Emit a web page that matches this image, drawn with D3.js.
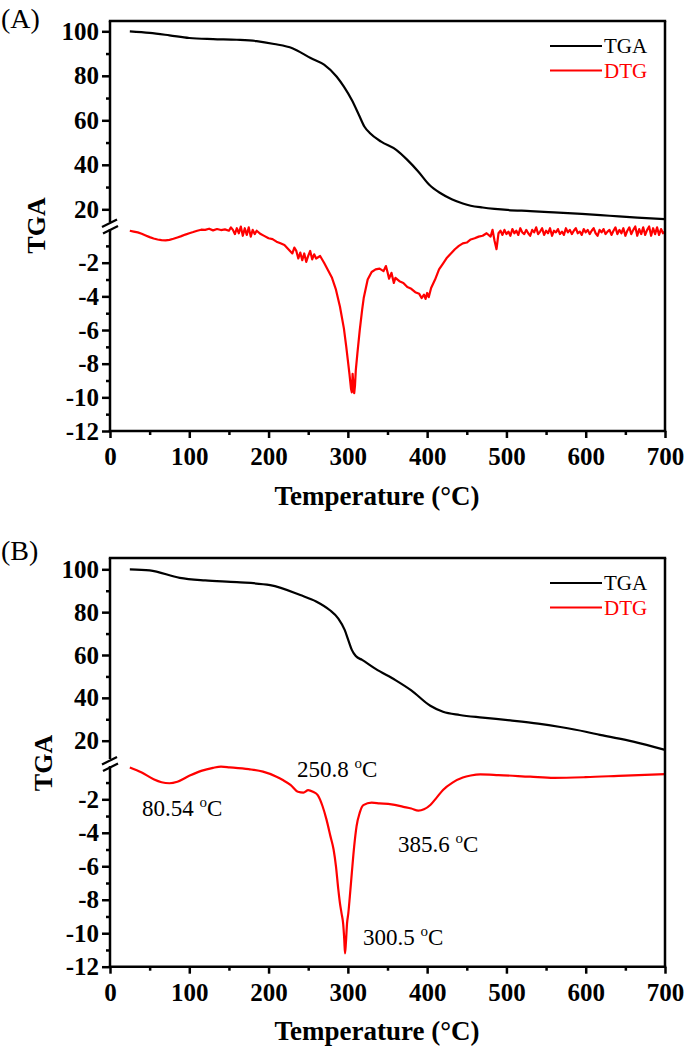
<!DOCTYPE html>
<html><head><meta charset="utf-8">
<script src="https://cdn.jsdelivr.net/npm/d3@7"></script>
<style>html,body{margin:0;padding:0;background:#fff;}svg{display:block;}</style>
</head><body>
<svg id="chart" width="685" height="1052"></svg>
<script>
// ---------- DATA ----------
const xTicks = [0,100,200,300,400,500,600,700];
const xMinor = [50,150,250,350,450,550,650];
const tgaTicks = [20,40,60,80,100];
const tgaMinor = [30,50,70,90];
const dtgTicks = [-12,-10,-8,-6,-4,-2];
const dtgMinor = [-11,-9,-7,-5,-3,-1];
const seriesNames = ["TGA","DTG"];

// Panel A  [temperature, value]
const tgaA = [[25,100],[50,99.3],[75,98.2],[100,97.0],[130,96.5],[160,96.2],[185,95.6],[207,94.3],[230,92.4],[253,88.0],[270,85.0],[286,79.6],[295,75.1],[305,69.1],[314,62.4],[321,57.1],[328,54.2],[342,50.4],[361,46.7],[375,42.2],[389,36.9],[403,30.9],[417,27.2],[431,24.5],[445,22.6],[455,21.6],[470,20.8],[485,20.2],[501,19.7],[530,19.2],[560,18.6],[595,17.9],[630,17.1],[665,16.3],[700,15.6]];
const dtgA = [[25,-0.10],[30,-0.15],[35,-0.20],[40,-0.28],[45,-0.38],[50,-0.48],[55,-0.56],[60,-0.62],[65,-0.66],[70,-0.67],[75,-0.64],[80,-0.58],[85,-0.50],[90,-0.42],[95,-0.33],[100,-0.25],[105,-0.18],[110,-0.10],[115,-0.04],[120,-0.05],[125,0.02],[130,-0.08],[135,0.00],[140,-0.06],[145,-0.02],[150,-0.10],[152.5,0.10],[155,-0.05],[157.5,-0.30],[160,0.05],[162.5,-0.25],[165,0.15],[167.5,-0.40],[170,0.05],[172.5,-0.35],[175,0.10],[177.5,-0.45],[180,-0.05],[182.5,-0.30],[185,-0.10],[190,-0.30],[195,-0.42],[200,-0.55],[205,-0.60],[210,-0.75],[215,-0.85],[220,-0.95],[225,-1.20],[230,-1.45],[232.5,-1.10],[235,-1.30],[237.5,-1.75],[240,-1.40],[242.5,-1.85],[245,-1.45],[247.5,-1.95],[250,-1.60],[252.5,-1.30],[255,-1.80],[257.5,-1.50],[260,-1.75],[265,-1.60],[270,-2.00],[275,-2.45],[280,-2.90],[285,-3.60],[290,-4.60],[295,-5.90],[298,-7.00],[300,-7.80],[302,-8.60],[304,-9.50],[305,-9.70],[306,-8.60],[307,-9.20],[308,-9.75],[309,-9.30],[310,-8.40],[312,-7.40],[315,-6.00],[318,-4.80],[320,-4.10],[325,-3.00],[330,-2.55],[335,-2.40],[340,-2.35],[345,-2.50],[348,-2.20],[350,-2.55],[352,-2.95],[355,-2.60],[358,-3.20],[360,-2.90],[365,-3.10],[370,-3.20],[375,-3.45],[380,-3.55],[385,-3.75],[390,-3.85],[393,-4.10],[396,-3.90],[398,-4.15],[400,-3.80],[402,-4.05],[405,-3.50],[410,-3.00],[415,-2.40],[420,-2.05],[425,-1.70],[430,-1.45],[435,-1.20],[440,-1.00],[445,-0.85],[450,-0.80],[455,-0.62],[460,-0.55],[465,-0.45],[470,-0.40],[475,-0.25],[480,-0.45],[482.5,-0.05],[485,-0.70],[487.5,-1.20],[490,-0.25],[492.5,-0.10],[495,-0.35],[497.5,-0.05],[500,-0.30],[502.5,-0.15],[505,-0.40],[507.5,0.00],[510,-0.25],[512.5,-0.10],[515,-0.35],[517.5,0.05],[520,-0.20],[522.5,-0.30],[525,-0.05],[527.5,-0.25],[530,-0.40],[532.5,-0.05],[535,-0.20],[537.5,0.10],[540,-0.30],[542.5,-0.15],[545,0.05],[547.5,-0.35],[550,-0.10],[552.5,-0.25],[555,0.05],[557.5,-0.40],[560,-0.10],[562.5,-0.20],[565,0.00],[567.5,-0.30],[570,-0.15],[572.5,-0.35],[575,0.05],[577.5,-0.20],[580,-0.05],[582.5,-0.30],[585,-0.10],[587.5,0.05],[590,-0.25],[592.5,-0.15],[595,-0.35],[597.5,0.00],[600,-0.20],[602.5,-0.05],[605,-0.30],[607.5,-0.10],[610,0.05],[612.5,-0.25],[615,-0.40],[617.5,-0.05],[620,-0.20],[622.5,0.00],[625,-0.30],[627.5,-0.15],[630,-0.05],[632.5,-0.35],[635,-0.10],[637.5,0.10],[640,-0.30],[642.5,-0.05],[645,-0.25],[647.5,0.05],[650,-0.40],[652.5,-0.10],[655,0.10],[657.5,-0.30],[660,-0.05],[662.5,0.15],[665,-0.40],[667.5,0.00],[670,-0.30],[672.5,0.10],[675,-0.35],[677.5,-0.05],[680,0.15],[682.5,-0.40],[685,0.05],[687.5,-0.30],[690,0.10],[692.5,-0.35],[695,0.00],[697.5,-0.25],[700,-0.15]];

// Panel B  [temperature, value]
const tgaB = [[25,100],[50,99.5],[88,96.0],[120,94.8],[160,94.0],[202,92.6],[240,88.0],[260,85.0],[277,81.0],[288,77.0],[296,71.7],[301,66.5],[305,62.4],[310,59.5],[318,57.7],[335,53.5],[360,48.3],[380,43.5],[404,36.3],[420,33.5],[441,32.0],[470,30.8],[505,29.5],[540,28.0],[568,26.4],[600,24.2],[618,22.7],[660,19.6],[700,15.7]];
const dtgB = [[25,-0.10],[40,-0.40],[55,-0.80],[65,-0.98],[75,-1.04],[85,-0.95],[100,-0.60],[115,-0.30],[130,-0.12],[140,-0.05],[151,-0.09],[175,-0.20],[193,-0.35],[210,-0.65],[218,-0.85],[228,-1.15],[237,-1.55],[244,-1.60],[250,-1.45],[256,-1.55],[262,-1.75],[268,-2.40],[273,-3.20],[278,-4.20],[282,-5.00],[285,-6.00],[288,-7.40],[290,-8.20],[292,-8.80],[294,-9.40],[295.5,-10.40],[296.4,-11.20],[297.5,-10.60],[299,-9.40],[300.6,-8.80],[302.5,-7.80],[305,-6.40],[308,-4.80],[311,-3.60],[315,-2.80],[319.5,-2.35],[330,-2.20],[340,-2.24],[355,-2.30],[370,-2.45],[380,-2.55],[389,-2.68],[396,-2.60],[404,-2.34],[412,-1.90],[420,-1.44],[432,-1.00],[445,-0.70],[455,-0.58],[467,-0.51],[490,-0.55],[530,-0.65],[560,-0.72],[600,-0.68],[650,-0.58],[700,-0.50]];
const annoLabels = ["80.54","250.8","385.6","300.5"];
const annoT = [40.4,235.9,363.2,319.1];
const annoV = [-3.0,-0.67,-5.15,-10.7];

// ---------- LAYOUT ----------
const FONT = "'Liberation Serif','Times New Roman',serif";
const RED = "#ff0000";
const svg = d3.select("#chart");
const x = d3.scaleLinear().domain([0,700]).range([110,665]);

const panels = [
  {letter:"(A)", letterY:28, top:21, bottom:431,
   tgaScale:d3.scaleLinear().domain([20,100]).range([209.3,31.3]), tgaBottomPx:222,
   dtgScale:d3.scaleLinear().domain([-12,-2]).range([431,262.7]), dtgTopPx:229,
   breakY:225.5, ylabX:45, titleY:505,
   tga:tgaA, dtg:dtgA, dCurve:d3.curveLinear, anno:false},
  {letter:"(B)", letterY:560, top:558, bottom:966.7,
   tgaScale:d3.scaleLinear().domain([20,100]).range([740.7,569.3]), tgaBottomPx:759,
   dtgScale:d3.scaleLinear().domain([-12,-2]).range([966.7,799.3]), dtgTopPx:766,
   breakY:763, ylabX:52, titleY:1040,
   tga:tgaB, dtg:dtgB, dCurve:d3.curveMonotoneX, anno:true}
];

panels.forEach(p => {
  const g = svg.append("g");
  g.append("text").attr("x",1).attr("y",p.letterY).attr("font-family",FONT)
    .attr("font-size",28).text(p.letter);

  const tgaLine = d3.line().x(d=>x(d[0])).y(d=>p.tgaScale(d[1])).curve(d3.curveMonotoneX);
  g.append("path").attr("d",tgaLine(p.tga)).attr("fill","none").attr("stroke","#000").attr("stroke-width",2.2);
  const dtgLine = d3.line().x(d=>x(d[0])).y(d=>p.dtgScale(d[1])).curve(p.dCurve);
  g.append("path").attr("d",dtgLine(p.dtg)).attr("fill","none").attr("stroke",RED).attr("stroke-width",2.2).attr("stroke-linejoin","round");

  g.append("line").attr("x1",108.8).attr("x2",666.2).attr("y1",p.top).attr("y2",p.top).attr("stroke","#000").attr("stroke-width",2.5);
  g.append("line").attr("x1",665).attr("x2",665).attr("y1",p.top).attr("y2",p.bottom).attr("stroke","#000").attr("stroke-width",2.5);

  const xa = g.append("g").attr("transform",`translate(0,${p.bottom})`)
    .call(d3.axisBottom(x).tickValues(xTicks).tickSize(7).tickFormat(d3.format("d")));
  const xm = g.append("g").attr("transform",`translate(0,${p.bottom})`)
    .call(d3.axisBottom(x).tickValues(xMinor).tickSize(4).tickFormat(""));
  [xa,xm].forEach(a=>{a.select(".domain").remove(); a.selectAll("line").attr("stroke","#000").attr("stroke-width",2.5);});
  xa.selectAll("text").attr("y",34).attr("dy",0).attr("font-family",FONT).attr("font-size",25).attr("font-weight","bold").attr("fill","#000");
  g.append("line").attr("x1",108.8).attr("x2",666.2).attr("y1",p.bottom).attr("y2",p.bottom).attr("stroke","#000").attr("stroke-width",2.5);
  g.append("text").attr("x",377).attr("y",p.titleY).attr("text-anchor","middle")
    .attr("font-family",FONT).attr("font-size",27).attr("font-weight","bold").text("Temperature (\u00B0C)");

  const ya1 = g.append("g").attr("transform","translate(110,0)")
    .call(d3.axisLeft(p.tgaScale).tickValues(tgaTicks).tickSize(8).tickPadding(3).tickFormat(d3.format("d")));
  const ym1 = g.append("g").attr("transform","translate(110,0)")
    .call(d3.axisLeft(p.tgaScale).tickValues(tgaMinor).tickSize(4).tickFormat(""));
  const ya2 = g.append("g").attr("transform","translate(110,0)")
    .call(d3.axisLeft(p.dtgScale).tickValues(dtgTicks).tickSize(8).tickPadding(3).tickFormat(d=>d3.format("d")(d).replace("\u2212","-")));
  const ym2 = g.append("g").attr("transform","translate(110,0)")
    .call(d3.axisLeft(p.dtgScale).tickValues(dtgMinor).tickSize(4).tickFormat(""));
  [ya1,ym1,ya2,ym2].forEach(a=>{a.select(".domain").remove(); a.selectAll("line").attr("stroke","#000").attr("stroke-width",2.5);});
  [ya1,ya2].forEach(a=>a.selectAll("text").attr("font-family",FONT).attr("font-size",25).attr("font-weight","bold").attr("fill","#000"));
  g.append("line").attr("x1",110).attr("x2",110).attr("y1",p.top).attr("y2",p.tgaBottomPx).attr("stroke","#000").attr("stroke-width",2.5);
  g.append("line").attr("x1",110).attr("x2",110).attr("y1",p.dtgTopPx).attr("y2",p.bottom).attr("stroke","#000").attr("stroke-width",2.5);
  const b = p.breakY;
  g.append("line").attr("x1",102).attr("y1",b+1.5).attr("x2",117).attr("y2",b-6).attr("stroke","#000").attr("stroke-width",2.2);
  g.append("line").attr("x1",103).attr("y1",b+8).attr("x2",118).attr("y2",b+0.5).attr("stroke","#000").attr("stroke-width",2.2);

  g.append("text").attr("transform",`translate(${p.ylabX},${b}) rotate(-90)`).attr("text-anchor","middle")
    .attr("font-family",FONT).attr("font-size",26).attr("font-weight","bold").text("TGA");

  const lg = g.append("g");
  [["#000",25],[RED,49.5]].forEach((c,i)=>{
    lg.append("line").attr("x1",550).attr("x2",602).attr("y1",p.top+c[1]).attr("y2",p.top+c[1]).attr("stroke",c[0]).attr("stroke-width",2.2);
    lg.append("text").attr("x",604).attr("y",p.top+c[1]+7).attr("font-family",FONT).attr("font-size",21).attr("fill",c[0]).text(seriesNames[i]);
  });

  if (p.anno) {
    annoLabels.forEach((lab,i)=>{
      const t = g.append("text").attr("x",x(annoT[i])).attr("y",p.dtgScale(annoV[i]))
        .attr("font-family",FONT).attr("font-size",23).attr("fill","#000");
      t.append("tspan").text(lab+" ");
      t.append("tspan").attr("font-size",15).attr("dy",-9).text("o");
      t.append("tspan").attr("dy",9).text("C");
    });
  }
});
</script>
</body></html>
